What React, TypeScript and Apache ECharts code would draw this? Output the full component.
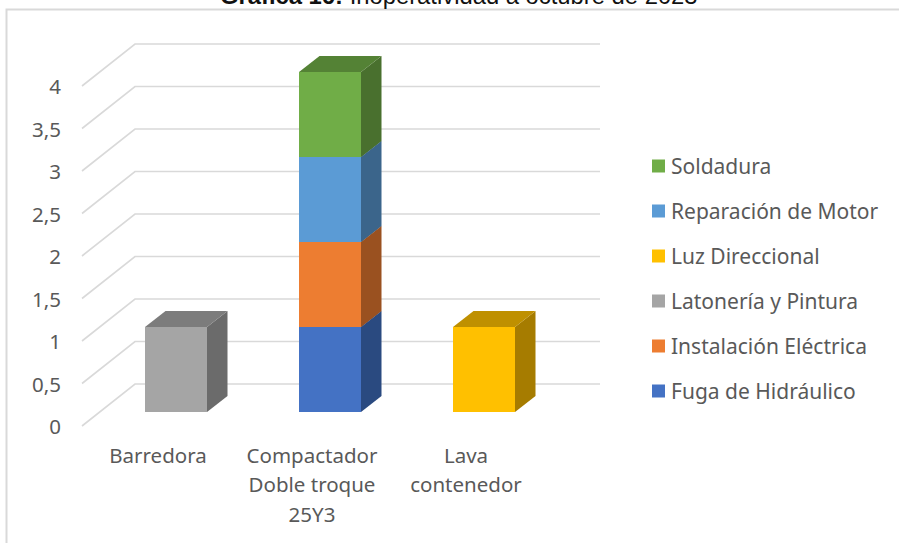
import React, { useEffect, useRef } from "react";
import * as echarts from "echarts";

const categories = ["Barredora", "Compactador\nDoble troque\n25Y3", "Lava\ncontenedor"];
const yTicks = [0, 0.5, 1, 1.5, 2, 2.5, 3, 3.5, 4];
const fuga = [0, 1, 0];
const instalacion = [0, 1, 0];
const latoneria = [1, 0, 0];
const luz = [0, 0, 1];
const reparacion = [0, 1, 0];
const soldadura = [0, 1, 0];
const legendOrder = ["Soldadura", "Reparación de Motor", "Luz Direccional", "Latonería y Pintura", "Instalación Eléctrica", "Fuga de Hidráulico"];

const seriesDefs = [
  { name: "Fuga de Hidráulico", values: fuga, front: "#4472C4", top: "#335593", side: "#2A4A80" },
  { name: "Instalación Eléctrica", values: instalacion, front: "#ED7D31", top: "#B25E25", side: "#9A5120" },
  { name: "Latonería y Pintura", values: latoneria, front: "#A5A5A5", top: "#7C7C7C", side: "#6B6B6B" },
  { name: "Luz Direccional", values: luz, front: "#FFC000", top: "#BF9000", side: "#A67C00" },
  { name: "Reparación de Motor", values: reparacion, front: "#5B9BD5", top: "#4474A0", side: "#3B658B" },
  { name: "Soldadura", values: soldadura, front: "#70AD47", top: "#548235", side: "#49702E" },
];

const BAND_OFFSET_X = 18;
const BAND_OFFSET_Y = -14;
const DEPTH_X = 20.5;
const DEPTH_Y = -16;
const BAR_W = 62;
const WALL_LEFT = 82;
const WALL_X = 53;
const WALL_Y = -42;
const WALL_RIGHT = 600;

export default function App() {
  const ref = useRef<HTMLDivElement>(null);
  useEffect(() => {
    const chart = echarts.init(ref.current!, undefined, { renderer: "svg" });

    const gridSeries = {
      type: "custom",
      silent: true,
      z: 1,
      data: yTicks.map((v) => [0, v]),
      encode: { x: 0, y: 1 },
      renderItem: (_: any, api: any) => {
        const p = api.coord([0, api.value(1)]);
        const y = p[1];
        return {
          type: "polyline",
          shape: { points: [[WALL_LEFT, y], [WALL_LEFT + WALL_X, y + WALL_Y], [WALL_RIGHT, y + WALL_Y]] },
          style: { fill: "none", stroke: "#D9D9D9", lineWidth: 1.6 },
        };
      },
    };

    const barSeries = seriesDefs.map((def, si) => ({
      type: "custom",
      name: def.name,
      z: 2,
      itemStyle: { color: def.front },
      data: def.values.map((v, i) => {
        const base = seriesDefs.slice(0, si).reduce((s, d) => s + d.values[i], 0);
        return [i, base, base + v];
      }),
      encode: { x: 0, y: [1, 2] },
      renderItem: (_: any, api: any) => {
        const c = api.value(0);
        const b = api.value(1);
        const t = api.value(2);
        if (t <= b) return null;
        const p0 = api.coord([c, b]);
        const p1 = api.coord([c, t]);
        const xl = p0[0] + BAND_OFFSET_X - BAR_W / 2;
        const xr = xl + BAR_W;
        const yb = p0[1] + BAND_OFFSET_Y;
        const yt = p1[1] + BAND_OFFSET_Y;
        return {
          type: "group",
          children: [
            {
              type: "polygon",
              shape: { points: [[xr, yb], [xr + DEPTH_X, yb + DEPTH_Y], [xr + DEPTH_X, yt + DEPTH_Y], [xr, yt]] },
              style: { fill: def.side },
            },
            {
              type: "polygon",
              shape: { points: [[xl, yt], [xl + DEPTH_X, yt + DEPTH_Y], [xr + DEPTH_X, yt + DEPTH_Y], [xr, yt]] },
              style: { fill: def.top },
            },
            {
              type: "rect",
              shape: { x: xl, y: yt, width: BAR_W, height: yb - yt },
              style: { fill: def.front },
            },
          ],
        };
      },
    }));

    chart.setOption({
      animation: false,
      backgroundColor: "#FFFFFF",
      title: {
        text: "{b|Gráfica 16:}{n| Inoperatividad a octubre de 2023}",
        left: 220,
        top: -17,
        padding: 0,
        textStyle: {
          fontWeight: "normal",
          rich: {
            b: { fontFamily: "Liberation Sans", fontWeight: "bold", fontSize: 23.8, color: "#111" },
            n: { fontFamily: "Liberation Sans", fontWeight: "normal", fontSize: 23.8, color: "#111" },
          },
        },
      },
      graphic: [
        {
          type: "polyline",
          silent: true,
          shape: { points: [[6.5, 543], [6.5, 9.5], [899, 9.5]] },
          style: { fill: "none", stroke: "#D9D9D9", lineWidth: 2 },
        },
      ],
      legend: {
        data: legendOrder,
        orient: "vertical",
        left: 652,
        top: 155,
        padding: 0,
        itemWidth: 13,
        itemHeight: 13,
        itemGap: 23,
        selectedMode: false,
        icon: "rect",
        textStyle: { fontFamily: "Noto Sans", fontSize: 21, lineHeight: 22, color: "#595959", padding: [0, 0, 0, 1] },
      },
      grid: { left: 81, width: 462, top: 86, height: 340 },
      xAxis: {
        type: "category",
        data: categories,
        axisLine: { show: false },
        axisTick: { show: false },
        splitLine: { show: false },
        axisLabel: {
          fontFamily: "Noto Sans",
          fontSize: 20.5,
          color: "#595959",
          lineHeight: 29.5,
          margin: 14,
          interval: 0,
        },
      },
      yAxis: {
        type: "value",
        min: 0,
        max: 4,
        interval: 0.5,
        axisLine: { show: false },
        axisTick: { show: false },
        splitLine: { show: false },
        axisLabel: {
          fontFamily: "Noto Sans",
          fontSize: 20.5,
          color: "#595959",
          margin: 20,
          padding: [0, 0, 7, 0],
          formatter: (v: number) => String(v).replace(".", ","),
        },
      },
      series: [gridSeries, ...barSeries],
    });
    return () => chart.dispose();
  }, []);
  return <div ref={ref} style={{ position: "fixed", left: 0, top: 0, width: 899, height: 543 }} />;
}
